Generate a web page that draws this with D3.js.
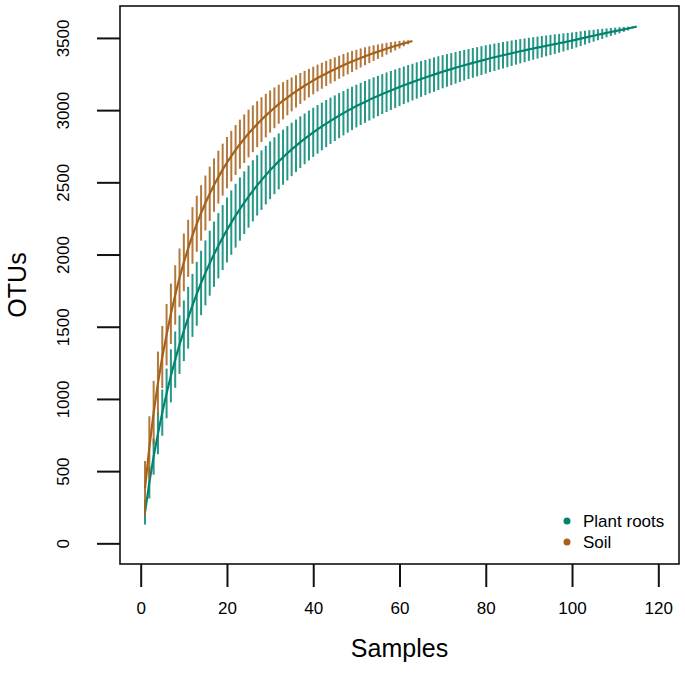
<!DOCTYPE html>
<html>
<head>
<meta charset="utf-8">
<script src="https://cdn.jsdelivr.net/npm/d3@7"></script>
<style>
  html, body { margin: 0; padding: 0; background: #fff; }
  svg { display: block; font-family: "Liberation Sans", Arial, Helvetica, sans-serif; }
</style>
</head>
<body>
<svg id="chart" width="685" height="696"></svg>
<script>
// ---- Data ----
const seriesNames = ["Plant roots", "Soil"];
const seriesColors = ["#018571", "#A6611A"];

// Plant roots: mean accumulated OTUs for samples 1..115
const rootsRichness = [
  215, 420, 600, 760, 905, 1038, 1160, 1272, 1376, 1472,
  1562, 1648, 1728, 1803, 1873, 1940, 2002, 2061, 2117, 2170,
  2221, 2269, 2315, 2359, 2401, 2441, 2479, 2515, 2550, 2583,
  2615, 2645, 2674, 2701, 2728, 2753, 2778, 2801, 2824, 2846,
  2867, 2887, 2907, 2926, 2944, 2962, 2979, 2996, 3012, 3028,
  3043, 3057, 3071, 3085, 3098, 3111, 3124, 3136, 3148, 3160,
  3172, 3183, 3194, 3205, 3216, 3226, 3236, 3246, 3256, 3266,
  3275, 3284, 3293, 3302, 3311, 3319, 3327, 3335, 3343, 3351,
  3359, 3366, 3373, 3380, 3387, 3394, 3401, 3408, 3414, 3421,
  3427, 3433, 3439, 3445, 3451, 3457, 3463, 3469, 3475, 3481,
  3488, 3495, 3502, 3509, 3515, 3522, 3528, 3535, 3541, 3547,
  3553, 3559, 3565, 3572, 3578
];
// Plant roots: standard deviation for samples 1..115
const rootsSd = [
  85, 110, 125, 143, 160, 172, 184, 195, 203, 210,
  214, 218, 221, 223, 225, 225, 226, 226, 225, 225,
  223, 221, 219, 217, 215, 212, 209, 206, 203, 200,
  197, 194, 191, 188, 185, 182, 179, 176, 173, 170,
  168, 165, 163, 160, 158, 156, 154, 152, 150, 148,
  146, 145, 143, 142, 140, 138, 137, 135, 134, 132,
  130, 129, 127, 126, 124, 122, 120, 119, 117, 115,
  113, 111, 110, 108, 106, 104, 103, 101, 100, 98,
  96, 95, 93, 92, 90, 88, 86, 84, 82, 80,
  78, 76, 74, 72, 70, 68, 65, 63, 60, 57,
  54, 51, 48, 45, 41, 38, 35, 31, 28, 24,
  21, 17, 13, 8, 0
];

// Soil: mean accumulated OTUs for samples 1..63
const soilRichness = [
  380, 665, 905, 1110, 1290, 1445, 1590, 1720, 1839, 1946,
  2043, 2132, 2213, 2288, 2357, 2421, 2481, 2536, 2588, 2636,
  2681, 2724, 2764, 2802, 2838, 2871, 2903, 2934, 2962, 2990,
  3016, 3041, 3065, 3087, 3109, 3130, 3150, 3169, 3187, 3205,
  3222, 3238, 3254, 3269, 3283, 3297, 3311, 3324, 3337, 3349,
  3361, 3373, 3384, 3395, 3405, 3415, 3425, 3435, 3444, 3453,
  3462, 3470, 3479
];
// Soil: standard deviation for samples 1..63
const soilSd = [
  190, 215, 220, 218, 215, 212, 209, 206, 203, 200,
  198, 196, 194, 192, 190, 188, 185, 183, 180, 178,
  175, 173, 170, 168, 165, 162, 159, 155, 151, 146,
  141, 135, 129, 123, 117, 112, 107, 103, 99, 96,
  93, 90, 87, 85, 83, 80, 78, 76, 73, 69,
  66, 62, 58, 54, 50, 46, 41, 36, 31, 26,
  20, 14, 0
];

const xTicks = [0, 20, 40, 60, 80, 100, 120];
const yTicks = [0, 500, 1000, 1500, 2000, 2500, 3000, 3500];
const xLabel = "Samples";
const yLabel = "OTUs";

// ---- Build series ----
function toPoints(rich, sd) {
  return rich.map((v, i) => ({ n: i + 1, mean: v, sd: sd[i] }));
}
const series = [
  { name: seriesNames[0], color: seriesColors[0], pts: toPoints(rootsRichness, rootsSd) },
  { name: seriesNames[1], color: seriesColors[1], pts: toPoints(soilRichness, soilSd) }
];

// ---- Layout ----
const box = { left: 120, right: 679, top: 6, bottom: 564 };
const svg = d3.select("#chart");

const yMax = d3.max(rootsRichness.concat(soilRichness));
const x = d3.scaleLinear().domain([0 - 0.04 * 120, 120 + 0.04 * 120]).range([box.left, box.right]);
const y = d3.scaleLinear().domain([0 - 0.04 * yMax, yMax * 1.04]).range([box.bottom, box.top]);

svg.append("rect").attr("width", 685).attr("height", 696).attr("fill", "#fff");

// Series: error bars then mean line
const line = d3.line().x(d => x(d.n)).y(d => y(d.mean));
series.forEach(s => {
  const g = svg.append("g");
  g.selectAll("line.bar")
    .data(s.pts)
    .join("line")
    .attr("class", "bar")
    .attr("x1", d => x(d.n)).attr("x2", d => x(d.n))
    .attr("y1", d => y(d.mean - d.sd)).attr("y2", d => y(d.mean + d.sd))
    .attr("stroke", s.color)
    .attr("stroke-width", 2.0)
    .attr("stroke-opacity", 0.85);
  g.append("path")
    .datum(s.pts)
    .attr("d", line)
    .attr("fill", "none")
    .attr("stroke", s.color)
    .attr("stroke-width", 2.2);
});

// Box
svg.append("rect")
  .attr("x", box.left).attr("y", box.top)
  .attr("width", box.right - box.left).attr("height", box.bottom - box.top)
  .attr("fill", "none").attr("stroke", "#111").attr("stroke-width", 1.6);

// Y axis
const yAxis = svg.append("g")
  .attr("transform", `translate(${box.left},0)`)
  .call(d3.axisLeft(y).tickValues(yTicks).tickSize(23).tickFormat(d3.format("d")));
yAxis.select(".domain").remove();
yAxis.selectAll(".tick line").attr("stroke", "#111").attr("stroke-width", 2);
yAxis.selectAll(".tick text")
  .attr("x", null).attr("dy", null)
  .attr("transform", "translate(-51,0) rotate(-90)")
  .attr("text-anchor", "middle")
  .attr("font-size", 17)
  .attr("font-family", "Liberation Sans, Arial, sans-serif")
  .attr("fill", "#000");

// X axis
const xAxis = svg.append("g")
  .attr("transform", `translate(0,${box.bottom})`)
  .call(d3.axisBottom(x).tickValues(xTicks).tickSize(23).tickPadding(15).tickFormat(d3.format("d")));
xAxis.select(".domain").remove();
xAxis.selectAll(".tick line").attr("stroke", "#111").attr("stroke-width", 2);
xAxis.selectAll(".tick text")
  .attr("font-size", 17)
  .attr("font-family", "Liberation Sans, Arial, sans-serif")
  .attr("fill", "#000");

// Axis titles
svg.append("text")
  .attr("x", (box.left + box.right) / 2).attr("y", 657)
  .attr("text-anchor", "middle").attr("font-size", 25).attr("fill", "#000")
  .text(xLabel);
svg.append("text")
  .attr("transform", `translate(26,${(box.top + box.bottom) / 2}) rotate(-90)`)
  .attr("text-anchor", "middle").attr("font-size", 25).attr("fill", "#000")
  .text(yLabel);

// Legend
const legend = svg.append("g").attr("transform", "translate(567,521)");
series.forEach((s, i) => {
  const row = legend.append("g").attr("transform", `translate(0,${i * 21})`);
  row.append("circle").attr("r", 3.5).attr("fill", s.color);
  row.append("text").attr("x", 16).attr("dy", "0.35em")
    .attr("font-size", 17).attr("fill", "#000").text(s.name);
});
</script>
</body>
</html>
